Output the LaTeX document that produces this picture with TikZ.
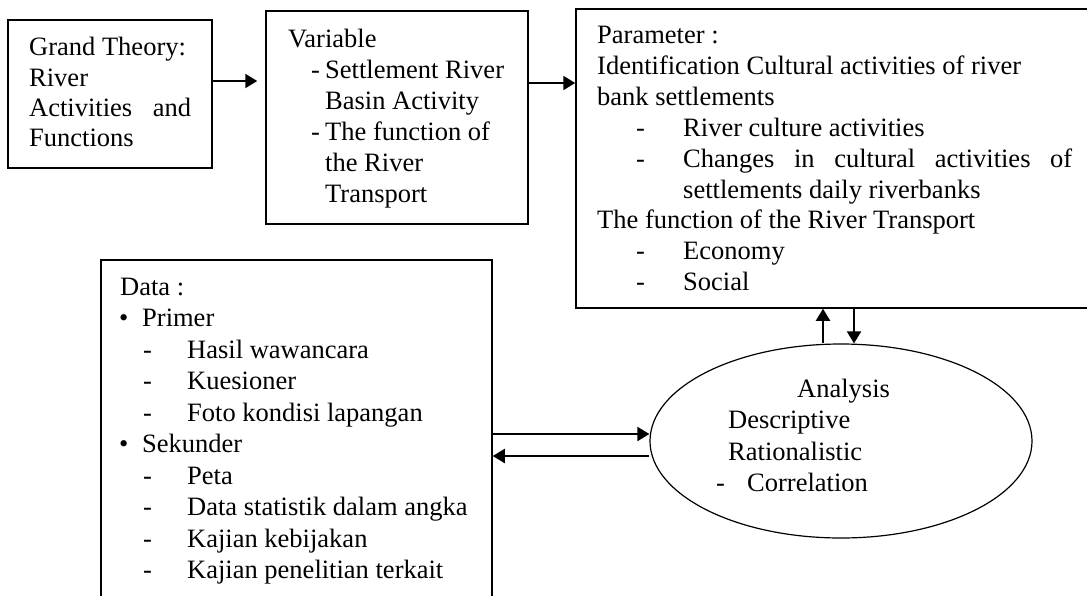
\documentclass[tikz,border=0pt]{standalone}
\usepackage{fontspec}
\setmainfont{Liberation Serif}
\usetikzlibrary{arrows.meta,shapes.geometric}
\tikzset{
  box/.style={draw, line width=1.5pt, rectangle, inner sep=0pt},
  oval/.style={draw, line width=1.2pt, ellipse, inner sep=0pt},
  txt/.style={anchor=base west, inner sep=0pt, font=\fontsize{26.5}{31}\selectfont},
  arr/.style={line width=2pt, -{Triangle[length=12pt,width=14pt]}},
}
\begin{document}
\begin{tikzpicture}[x=1pt,y=-1pt]
\useasboundingbox (0,0) rectangle (1087,595);
\clip (0,0) rectangle (1087,595);
% boxes
\node[box, minimum width=204pt, minimum height=148pt] (gt) at (110,94) {};
\node[box, minimum width=262pt, minimum height=213pt] (var) at (397,117.5) {};
\node[box, minimum width=513pt, minimum height=299pt] (par) at (832.5,158.5) {};
\node[box, minimum width=391pt, minimum height=360pt] (data) at (296.5,440) {};
\node[oval, minimum width=382pt, minimum height=194pt] (ell) at (841,441) {};
% box 1 text
\node[txt] (g1) at (29,55) {Grand Theory:};
\node[txt] (g2) at (29,86) {River};
\node[txt] (g3) at (29,116) {\makebox[162pt][s]{Activities and}};
\node[txt] (g4) at (29,146) {Functions};
% box 2 text
\node[txt] (v1) at (288,47) {Variable};
\node[txt] (vd1) at (311,78) {-};
\node[txt] (v2) at (325,78) {Settlement River};
\node[txt] (v3) at (325,109) {Basin Activity};
\node[txt] (vd2) at (311,140) {-};
\node[txt] (v4) at (325,140) {The function of};
\node[txt] (v5) at (325,171) {the River};
\node[txt] (v6) at (325,202) {Transport};
% box 3 text
\node[txt] (p1) at (597,43) {Parameter :};
\node[txt] (p2) at (597,74) {Identification Cultural activities of river};
\node[txt] (p3) at (597,105) {bank settlements};
\node[txt] (pd1) at (636,136) {-};
\node[txt] (p4) at (683,136) {River culture activities};
\node[txt] (pd2) at (636,167) {-};
\node[txt] (p5) at (683,167) {\makebox[389pt][s]{Changes in cultural activities of}};
\node[txt] (p6) at (683,198) {settlements daily riverbanks};
\node[txt] (p7) at (597,228) {The function of the River Transport};
\node[txt] (pd3) at (636,259) {-};
\node[txt] (p8) at (683,259) {Economy};
\node[txt] (pd4) at (636,290) {-};
\node[txt] (p9) at (683,290) {Social};
% data box text
\node[txt] (d0) at (120,295) {Data :};
\node[txt] (db1) at (119,326) {•};
\node[txt] (d1) at (142,326) {Primer};
\node[txt] (dd1) at (143,358) {-};
\node[txt] (d2) at (187,358) {Hasil wawancara};
\node[txt] (dd2) at (143,389) {-};
\node[txt] (d3) at (187,389) {Kuesioner};
\node[txt] (dd3) at (143,421) {-};
\node[txt] (d4) at (187,421) {Foto kondisi lapangan};
\node[txt] (db2) at (119,452) {•};
\node[txt] (d5) at (142,452) {Sekunder};
\node[txt] (dd4) at (143,484) {-};
\node[txt] (d6) at (187,484) {Peta};
\node[txt] (dd5) at (143,515) {-};
\node[txt] (d7) at (187,515) {Data statistik dalam angka};
\node[txt] (dd6) at (143,547) {-};
\node[txt] (d8) at (187,547) {Kajian kebijakan};
\node[txt] (dd7) at (143,578) {-};
\node[txt] (d9) at (187,578) {Kajian penelitian terkait};
% ellipse text
\node[txt] (e1) at (797,397) {Analysis};
\node[txt] (e2) at (728,428) {Descriptive};
\node[txt] (e3) at (728,460) {Rationalistic};
\node[txt] (ed1) at (716,491) {-};
\node[txt] (e4) at (747,491) {Correlation};
% helper coordinates
\coordinate (y81) at (0,81);
\coordinate (y83) at (0,83);
\coordinate (y434) at (0,434);
\coordinate (y456) at (0,456);
\coordinate (x823) at (823,0);
\coordinate (x854) at (854,0);
% connectors
\draw[arr, shorten >=8pt] (gt.east |- y81) -- (var.west |- y81);
\draw[arr] (var.east |- y83) -- (par.west |- y83);
\draw[arr] (ell.north -| x823) -- (par.south -| x823);
\draw[arr] (par.south -| x854) -- (ell.north -| x854);
\draw[arr] (data.east |- y434) -- (ell.west |- y434);
\draw[arr] (ell.west |- y456) -- (data.east |- y456);
\end{tikzpicture}
\end{document}
